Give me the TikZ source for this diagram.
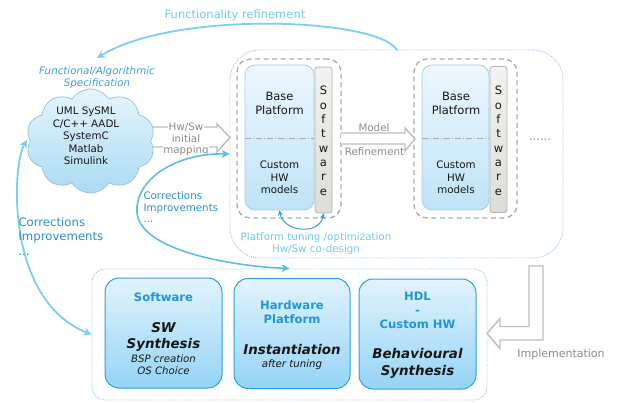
\documentclass[tikz,border=0pt]{standalone}
\usepackage{fontspec}
\setmainfont{DejaVu Sans}
\usetikzlibrary{shapes.symbols,arrows.meta}
\definecolor{titleblue}{HTML}{1E96D8}
\definecolor{specblue}{HTML}{3AA0D8}
\definecolor{lightblue}{HTML}{72C8EE}
\definecolor{corrblue}{HTML}{2A8FC8}
\definecolor{arrowblue}{HTML}{7ACFF2}
\definecolor{arrowblue2}{HTML}{5DBDEA}
\definecolor{tuneblue}{HTML}{3A9ED8}
\definecolor{graytext}{HTML}{8A8A8A}
\definecolor{hollowgray}{HTML}{BDBDBD}
\definecolor{dotblue}{HTML}{9CBEDC}
\definecolor{dashgray}{HTML}{A9A9A9}
\definecolor{baseborder}{HTML}{A9CDE6}
\definecolor{basetop}{HTML}{EDF7FE}
\definecolor{basebot}{HTML}{BEE3F8}
\definecolor{swtop}{HTML}{F2F2F0}
\definecolor{swbot}{HTML}{DCDCD8}
\definecolor{swborder}{HTML}{B4B4B0}
\definecolor{boxborder}{HTML}{2CA0DC}
\definecolor{boxtop}{HTML}{E2F3FD}
\definecolor{boxbot}{HTML}{94D4F6}
\definecolor{cloudtop}{HTML}{E6F5FD}
\definecolor{cloudbot}{HTML}{ABDBF4}
\definecolor{cloudborder}{HTML}{A0C2DA}
\definecolor{ink}{HTML}{161616}
\tikzset{
  bluetip/.tip={Stealth[length=8pt, width=8pt, inset=2.5pt]},
  smalltip/.tip={Stealth[length=5pt, width=5pt, inset=1.5pt]},
  txt/.style={inner sep=0pt, anchor=base, text=ink},
  fbig/.style={font=\fontsize{11.5}{14}\selectfont},
  fsmall/.style={font=\fontsize{10.3}{12.5}\selectfont},
  fspec/.style={font=\fontsize{10.3}{12.5}\selectfont\itshape},
  ftitle/.style={font=\fontsize{11.6}{14}\selectfont\bfseries, text=titleblue},
  fbi/.style={font=\fontsize{13.4}{16}\selectfont\bfseries\itshape},
  fital/.style={font=\fontsize{10.2}{12.5}\selectfont\itshape},
  dotline/.style={draw=dotblue, line width=0.9pt, dash pattern=on 0.9pt off 1.2pt},
  upperbox/.style={dotline, rounded corners=30pt, minimum width=333pt, minimum height=208pt, inner sep=0pt},
  lowerbox/.style={dotline, rounded corners=13pt, minimum width=395pt, minimum height=131pt, inner sep=0pt},
  dashbox/.style={draw=dashgray, line width=1.3pt, dash pattern=on 5pt off 3.5pt, rounded corners=13pt, minimum width=104pt, minimum height=159pt, inner sep=0pt},
  basebox/.style={draw=baseborder, line width=0.8pt, top color=basetop, bottom color=basebot, rounded corners=10pt, minimum width=69pt, minimum height=145pt, inner sep=0pt},
  swbox/.style={draw=swborder, line width=0.8pt, top color=swtop, bottom color=swbot, rounded corners=2.5pt, minimum width=17pt, minimum height=146pt, inner sep=0pt},
  lbox/.style={draw=boxborder, line width=1pt, top color=boxtop, bottom color=boxbot, rounded corners=14pt, minimum width=117pt, minimum height=110pt, inner sep=0pt},
  divider/.style={draw=dashgray, line width=0.8pt, dash pattern=on 6pt off 2pt on 1pt off 2pt},
  hollow/.style={draw=hollowgray, line width=1.4pt, fill=white, line join=miter},
  bluearrow/.style={draw=arrowblue, line width=1.8pt, line cap=round},
}
\begin{document}
\begin{tikzpicture}[x=1pt,y=-1pt]
\useasboundingbox (0,0) rectangle (618,403);

% containers
\node[upperbox] (upper) at (396.5,154) {};
\node[lowerbox] (lower) at (289.5,334.5) {};
\node[dashbox] (d1) at (289,138.5) {};
\node[dashbox, minimum width=103pt] (d2) at (465.5,138.5) {};

% hollow arrows
\draw[hollow] (140,127) -- (217,127) -- (217,124) -- (230,137.5) -- (217,152) -- (217,147) -- (140,147);
\draw[hollow] (341,133) -- (405,133) -- (405,128) -- (415,139) -- (405,151) -- (405,144) -- (341,144);
\draw[hollow] (543,266) -- (543,340) -- (500,340) -- (500,348.5) -- (487,333.5) -- (500,318.5) -- (500,326.5) -- (529,326.5) -- (529,266) -- cycle;

% cloud
\node[cloud, cloud puffs=10, cloud puff arc=115, aspect=1.25, draw=cloudborder, line width=0.8pt,
      top color=cloudtop, bottom color=cloudbot, minimum width=129pt, minimum height=104pt, inner sep=0pt] (cloud) at (90.5,141) {};
\node[txt, fsmall] (c1) at (86,115) {UML SySML};
\node[txt, fsmall] (c2) at (86,127.5) {C/C++ AADL};
\node[txt, fsmall] (c3) at (86,140) {SystemC};
\node[txt, fsmall] (c4) at (86,152.5) {Matlab};
\node[txt, fsmall] (c5) at (86,165) {Simulink};
\node[txt, fspec, text=specblue] (spec1) at (97,75) {Functional/Algorithmic};
\node[txt, fspec, text=specblue] (spec2) at (97,87) {Specification};

% mapping labels
\node[txt, fsmall, text=graytext, fill=white, inner sep=0.6pt] (m1) at (186,131) {Hw/Sw};
\node[txt, fsmall, text=graytext] (m2) at (186,142.7) {initial};
\node[txt, fsmall, text=graytext, fill=white, inner sep=0.6pt] (m3) at (186,153.8) {mapping};
\node[txt, fsmall, text=graytext] (r1) at (374,131.5) {Model};
\node[txt, fsmall, text=graytext] (r2) at (374.5,156) {Refinement};

% platform blocks
\node[basebox] (b1) at (279.5,137.5) {};
\node[basebox, minimum width=67pt] (b2) at (455.5,137.5) {};
\node[swbox] (s1) at (323.5,140) {};
\node[swbox] (s2) at (498.5,139.5) {};
\draw[divider] ([yshift=-0.5pt]b1.west) -- ([yshift=-0.5pt]b1.east);
\draw[divider] ([yshift=-0.5pt]b2.west) -- ([yshift=-0.5pt]b2.east);
\foreach \bx/\nm in {279.5/p, 456/q}{
  \node[txt, fbig] (\nm1) at (\bx,100.5) {Base};
  \node[txt, fbig] (\nm2) at (\bx,114.5) {Platform};
  \node[txt, fsmall] (\nm3) at (\bx,169) {Custom};
  \node[txt, fsmall] (\nm4) at (\bx,181.3) {HW};
  \node[txt, fsmall] (\nm5) at (\bx,193.6) {models};
}
\foreach \sx/\nm in {323.5/u, 498.5/v}{
  \foreach \ch [count=\i from 0] in {S,o,f,t,w,a,r,e}
    \node[txt, fbig] (\nm\i) at (\sx,95+14.3*\i) {\ch};
}
\node[txt, fbig, text=graytext] (dots) at (540,140.5) {......};

% lower boxes
\node[lbox] (swb) at (163.5,333) {};
\node[lbox, minimum width=116pt] (hwb) at (292,333.5) {};
\node[lbox] (hdlb) at (417.5,334) {};

\node[txt, ftitle] (t1) at (163.5,301.7) {Software};
\node[txt, fbi] (t2) at (163.5,332.8) {SW};
\node[txt, fbi] (t3) at (163.5,348.8) {Synthesis};
\node[txt, fital] (t4) at (163.5,362.3) {BSP creation};
\node[txt, fital] (t5) at (163.5,374) {OS Choice};

\node[txt, ftitle] (h1) at (292,309.1) {Hardware};
\node[txt, ftitle] (h2) at (292,323.4) {Platform};
\node[txt, fbi] (h3) at (292,354.5) {Instantiation};
\node[txt, fital] (h4) at (292,367.5) {after tuning};

\node[txt, ftitle] (k1) at (417.5,300.1) {HDL};
\node[txt, ftitle] (k2) at (417.5,314.2) {-};
\node[txt, ftitle] (k3) at (417.5,328.4) {Custom HW};
\node[txt, fbi] (k4) at (417.5,358.8) {Behavioural};
\node[txt, fbi] (k5) at (417.5,375.2) {Synthesis};

\node[txt, text=graytext, font=\fontsize{11}{13}\selectfont] (impl) at (561,357.3) {Implementation};

% blue connectors
\coordinate (frA) at (397,50);
\coordinate (frB) at (97,58);
\draw[bluearrow, -{bluetip}] (frA) .. controls (378,18) and (175,10) .. (frB);
\node[txt, fbig, text=lightblue] (frt) at (235,18.4) {Functionality refinement};

\coordinate (ocA) at (27,140);
\draw[bluearrow, {bluetip}-{bluetip}] (ocA) .. controls (12,165) and (5,300) .. (lower.west);
\node[txt, font=\fontsize{11.7}{14}\selectfont, text=corrblue, anchor=base west] (oc1) at (18.3,226.7) {Corrections};
\node[txt, font=\fontsize{11.7}{14}\selectfont, text=corrblue, anchor=base west] (oc2) at (18.3,240.3) {Improvements};
\node[txt, font=\fontsize{11.7}{14}\selectfont, text=corrblue, anchor=base west] (oc3) at (18.3,255) {...};

\draw[bluearrow, draw=arrowblue2, line width=1.6pt, {bluetip}-{bluetip}] (upper.west) .. controls (175,153) and (135,180) .. (137,212) .. controls (139,250) and (230,266) .. (lower.north);
\node[txt, fsmall, text=corrblue, anchor=base west] (ic1) at (143.3,200) {Corrections};
\node[txt, fsmall, text=corrblue, anchor=base west] (ic2) at (143.3,211.5) {Improvements};
\node[txt, fsmall, text=corrblue, anchor=base west] (ic3) at (143.3,222.7) {...};

\draw[draw=tuneblue, line width=1pt, {smalltip}-{smalltip}] (b1.south) .. controls +(4,22) and +(-4,22) .. (s1.south);
\node[txt, fsmall, text=lightblue] (pt1) at (316,240.5) {Platform tuning /optimization};
\node[txt, fsmall, text=lightblue] (pt2) at (316,253) {Hw/Sw co-design};
\end{tikzpicture}
\end{document}
